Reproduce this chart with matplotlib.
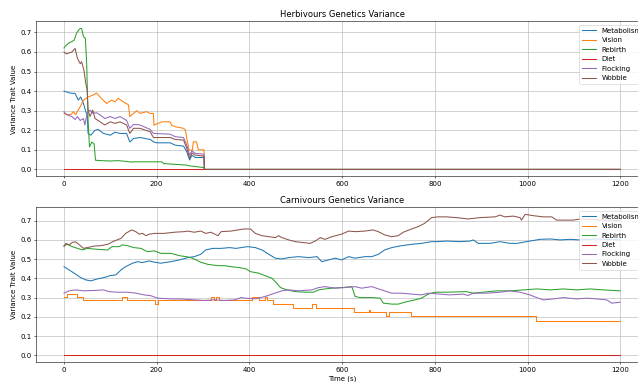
import numpy as np
import matplotlib
matplotlib.use('Agg')
import matplotlib.pyplot as plt

labels = ['Metabolism', 'Vision', 'Rebirth', 'Diet', 'Flocking', 'Wobble']

#%%
# Herbivours data
herb_t_metabolism = [0, 13, 24, 31, 36, 42, 47, 50, 52, 58, 67, 74, 85, 100, 110, 121, 135, 142, 150, 164,
                     186, 193, 200, 229, 240, 258, 265, 271, 276, 283, 302, 303, 1200]
herb_metabolism = [0.40, 0.39, 0.388, 0.354, 0.37, 0.337, 0.295, 0.28, 0.184, 0.175, 0.20, 0.204, 0.184, 0.175,
                   0.19, 0.184, 0.184, 0.14, 0.158, 0.163, 0.153, 0.141, 0.136, 0.136, 0.124, 0.119, 0.09, 0.048,
                   0.073, 0.061, 0.061, 0.0, 0.0]

herb_t_vision = [0, 8, 15, 20, 25, 35, 42, 52, 63, 70, 78, 92, 103, 110, 117, 128, 139, 142, 150, 157,
                 164, 178, 186, 193, 194, 211, 229, 232, 240, 258, 262, 265, 270, 277, 279, 286, 290, 302, 303, 1200]
herb_vision = [0.286, 0.28, 0.28, 0.295, 0.28, 0.32, 0.354, 0.37, 0.38, 0.39, 0.37, 0.337, 0.354, 0.345, 0.363,
               0.345, 0.33, 0.27, 0.286, 0.30, 0.286, 0.295, 0.286, 0.286, 0.226, 0.243, 0.243, 0.226, 0.218, 0.21,
               0.20, 0.158, 0.099, 0.099, 0.141, 0.141, 0.10, 0.10, 0.0, 0.0]

herb_t_rebirth = [0, 2, 10, 16, 22, 27, 31, 35, 38, 42, 46, 49, 52, 55, 60, 65, 68, 80, 100, 117,
                  146, 150, 186, 211, 215, 265, 272, 300, 302, 303, 1200]
herb_rebirth = [0.62, 0.627, 0.645, 0.652, 0.66, 0.695, 0.71, 0.72, 0.72, 0.678, 0.67, 0.54, 0.25, 0.115, 0.14,
                0.13, 0.047, 0.045, 0.043, 0.045, 0.038, 0.039, 0.039, 0.039, 0.03, 0.022, 0.018, 0.01, 0.01,
                0.0, 0.0]

herb_t_diet = [0, 1200]
herb_diet = [0.0, 0.0]

herb_t_flocking = [0, 5, 17, 24, 29, 35, 42, 45, 50, 56, 63, 70, 78, 88, 100, 110, 121, 135, 142, 150,
                   164, 186, 193, 229, 240, 258, 265, 271, 276, 283, 302, 303, 1200]
herb_flocking = [0.295, 0.28, 0.27, 0.255, 0.27, 0.25, 0.26, 0.227, 0.286, 0.303, 0.286, 0.29, 0.278, 0.26, 0.27,
                 0.26, 0.27, 0.25, 0.21, 0.23, 0.227, 0.204, 0.184, 0.18, 0.167, 0.163, 0.124, 0.073, 0.095,
                 0.082, 0.078, 0.0, 0.0]

herb_t_wobble = [0, 5, 17, 24, 29, 35, 38, 43, 47, 50, 52, 56, 62, 67, 78, 88, 100, 110, 121, 135,
                 142, 150, 164, 186, 193, 229, 240, 258, 265, 271, 276, 283, 302, 303, 1200]
herb_wobble = [0.60, 0.59, 0.60, 0.618, 0.567, 0.54, 0.55, 0.507, 0.44, 0.405, 0.303, 0.27, 0.303, 0.26, 0.243,
               0.227, 0.243, 0.235, 0.243, 0.227, 0.184, 0.21, 0.21, 0.192, 0.163, 0.163, 0.153, 0.15, 0.107,
               0.056, 0.085, 0.073, 0.068, 0.0, 0.0]

#%%
# Carnivours data
carn_t_metabolism = [0, 11, 22, 36, 47, 58, 72, 86, 101, 112, 123, 133, 148, 159, 169, 184, 195, 209, 231, 249,
                     267, 281, 295, 306, 321, 339, 357, 371, 382, 396, 413, 427, 442, 456, 470, 485, 506, 528,
                     546, 556, 571, 585, 599, 614, 628, 649, 664, 678, 692, 707, 728, 750, 771, 793, 804, 825,
                     854, 876, 883, 894, 919, 941, 962, 977, 998, 1027, 1049, 1070, 1092, 1114, 1150, 1200]
carn_metabolism = [0.461, 0.444, 0.427, 0.404, 0.392, 0.387, 0.397, 0.404, 0.415, 0.418, 0.444, 0.461, 0.479,
                   0.487, 0.482, 0.491, 0.484, 0.479, 0.487, 0.496, 0.508, 0.513, 0.525, 0.548, 0.556, 0.556,
                   0.56, 0.556, 0.56, 0.565, 0.56, 0.548, 0.525, 0.505, 0.501, 0.508, 0.513, 0.508, 0.513, 0.487,
                   0.496, 0.505, 0.496, 0.513, 0.505, 0.513, 0.513, 0.525, 0.548, 0.56, 0.57, 0.577, 0.582,
                   0.591, 0.591, 0.594, 0.591, 0.594, 0.60, 0.582, 0.582, 0.591, 0.582, 0.582, 0.591, 0.603,
                   0.605, 0.60, 0.603, 0.60, 0.605, 0.60]

# vision is a step signal
carn_t_vision = [0, 7, 27, 40, 126, 137, 197, 203, 317, 323, 328, 334, 405, 420, 434, 437, 451, 494, 534, 543,
                 626, 658, 661, 695, 702, 749, 1018, 1200]
carn_vision = [0.302, 0.318, 0.302, 0.285, 0.302, 0.285, 0.266, 0.285, 0.302, 0.285, 0.302, 0.285, 0.302, 0.285,
               0.302, 0.285, 0.266, 0.245, 0.266, 0.245, 0.224, 0.234, 0.224, 0.204, 0.224, 0.202, 0.176, 0.176]

carn_t_rebirth = [0, 7, 18, 29, 40, 50, 72, 94, 104, 119, 126, 137, 151, 166, 180, 195, 209, 231, 249, 263,
                  274, 285, 295, 310, 332, 346, 360, 378, 393, 402, 420, 438, 449, 459, 467, 481, 499, 520,
                  538, 549, 563, 578, 599, 621, 628, 639, 664, 682, 689, 707, 721, 735, 757, 771, 786, 800,
                  825, 868, 883, 904, 933, 962, 991, 1020, 1049, 1077, 1106, 1135, 1164, 1200]
carn_rebirth = [0.57, 0.577, 0.565, 0.556, 0.548, 0.556, 0.551, 0.548, 0.565, 0.565, 0.574, 0.57, 0.56, 0.556,
                0.539, 0.543, 0.53, 0.53, 0.518, 0.513, 0.508, 0.496, 0.484, 0.473, 0.466, 0.466, 0.461, 0.456,
                0.449, 0.435, 0.427, 0.41, 0.40, 0.375, 0.352, 0.34, 0.331, 0.328, 0.328, 0.34, 0.345, 0.349,
                0.352, 0.357, 0.306, 0.30, 0.30, 0.297, 0.271, 0.266, 0.266, 0.276, 0.288, 0.297, 0.318, 0.328,
                0.328, 0.331, 0.323, 0.328, 0.335, 0.335, 0.34, 0.345, 0.34, 0.345, 0.34, 0.345, 0.34, 0.335]

carn_t_diet = [0, 1200]
carn_diet = [0.0, 0.0]

carn_t_flocking = [0, 11, 25, 43, 65, 86, 97, 115, 137, 155, 173, 187, 202, 231, 252, 281, 303, 324, 346, 368,
                   382, 391, 413, 434, 449, 470, 485, 506, 535, 549, 563, 585, 606, 628, 642, 664, 685, 707,
                   728, 750, 771, 786, 811, 832, 861, 872, 883, 912, 941, 962, 984, 1005, 1020, 1034, 1056,
                   1077, 1106, 1128, 1150, 1171, 1182, 1200]
carn_flocking = [0.323, 0.335, 0.34, 0.335, 0.337, 0.34, 0.331, 0.328, 0.328, 0.323, 0.314, 0.31, 0.297, 0.293,
                 0.293, 0.288, 0.285, 0.288, 0.285, 0.288, 0.30, 0.297, 0.293, 0.306, 0.318, 0.335, 0.34, 0.335,
                 0.34, 0.352, 0.357, 0.349, 0.352, 0.357, 0.349, 0.357, 0.34, 0.323, 0.323, 0.318, 0.314, 0.323,
                 0.318, 0.314, 0.318, 0.311, 0.323, 0.323, 0.328, 0.335, 0.328, 0.314, 0.30, 0.288, 0.293, 0.30,
                 0.293, 0.297, 0.293, 0.288, 0.271, 0.276]

carn_t_wobble = [0, 4, 11, 18, 25, 32, 42, 50, 65, 79, 94, 108, 123, 133, 146, 155, 162, 169, 177, 184,
                 195, 216, 238, 259, 267, 281, 295, 306, 317, 332, 339, 360, 375, 389, 402, 413, 427, 442, 456,
                 463, 470, 485, 499, 513, 531, 542, 553, 563, 578, 599, 614, 628, 649, 667, 678, 692, 707, 721,
                 732, 750, 764, 778, 793, 807, 825, 847, 872, 897, 930, 941, 951, 969, 984, 987, 995, 1013,
                 1034, 1052, 1063, 1099, 1114, 1150, 1200]
carn_wobble = [0.565, 0.582, 0.574, 0.587, 0.59, 0.577, 0.556, 0.56, 0.568, 0.57, 0.577, 0.594, 0.608, 0.634,
               0.652, 0.643, 0.63, 0.634, 0.622, 0.63, 0.634, 0.634, 0.64, 0.643, 0.646, 0.64, 0.646, 0.634,
               0.64, 0.622, 0.643, 0.646, 0.652, 0.657, 0.657, 0.634, 0.622, 0.617, 0.612, 0.622, 0.612, 0.60,
               0.591, 0.587, 0.582, 0.594, 0.612, 0.603, 0.617, 0.63, 0.646, 0.643, 0.646, 0.652, 0.643, 0.626,
               0.617, 0.622, 0.64, 0.657, 0.669, 0.686, 0.716, 0.72, 0.72, 0.716, 0.709, 0.716, 0.72, 0.729,
               0.72, 0.724, 0.716, 0.703, 0.733, 0.726, 0.72, 0.72, 0.703, 0.703, 0.709, 0.705, 0.70]

#%%
herb = [(herb_t_metabolism, herb_metabolism), (herb_t_vision, herb_vision), (herb_t_rebirth, herb_rebirth),
        (herb_t_diet, herb_diet), (herb_t_flocking, herb_flocking), (herb_t_wobble, herb_wobble)]
carn = [(carn_t_metabolism, carn_metabolism), (carn_t_vision, carn_vision), (carn_t_rebirth, carn_rebirth),
        (carn_t_diet, carn_diet), (carn_t_flocking, carn_flocking), (carn_t_wobble, carn_wobble)]

f = plt.figure(figsize=(12.76, 7.64), dpi=50)
# axes run a bit past the right edge, like in the original export
ax1 = f.add_axes([0.0567, 0.538, 0.959, 0.406])
ax2 = f.add_axes([0.0567, 0.0516, 0.959, 0.4057])

for ax, series, title in zip([ax1, ax2], [herb, carn],
                             ['Herbivours Genetics Variance', 'Carnivours Genetics Variance']):
    for (t, v), label in zip(series, labels):
        if ax is ax2 and label == 'Vision':
            ax.plot(t, v, drawstyle='steps-post', label=label)
        else:
            ax.plot(t, v, label=label)
    ax.set_title(title)
    ax.set_ylabel('Variance Trait Value')
    ax.set_xticks([0, 200, 400, 600, 800, 1000, 1200])
    ax.grid(True)
    ax.legend(loc='upper right')

ax2.set_xlabel('Time (s)')

f.savefig('out.png', dpi=50)
